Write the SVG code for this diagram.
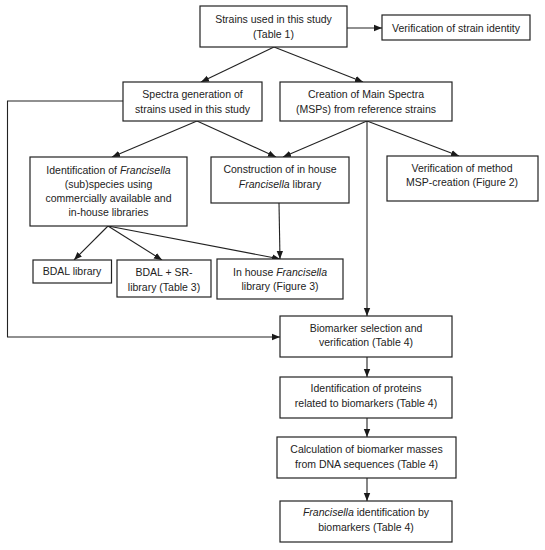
<svg xmlns="http://www.w3.org/2000/svg" width="545" height="550" viewBox="0 0 545 550">
<defs>
<marker id="ah" markerUnits="userSpaceOnUse" markerWidth="8" markerHeight="8" viewBox="0 0 8 8" refX="8" refY="4" orient="auto">
<path d="M0,0.8 L8,4 L0,7.2 Z" fill="#1a1a1a"/>
</marker>
</defs>
<style>
rect{fill:#fff;stroke:#222;stroke-width:1.2}
text{font-family:"Liberation Sans",Arial,sans-serif;font-size:10.5px;fill:#222;text-anchor:middle}
.c line,.c polyline{stroke:#222;stroke-width:1.1;fill:none}
.a{marker-end:url(#ah)}
.i{font-style:italic}
</style>
<rect x="0" y="0" width="545" height="550" style="fill:#fff;stroke:none"/>
<g class="c" id="connectors">
<line class="a" x1="347" y1="28" x2="382" y2="28"/>
<line class="a" x1="274" y1="47" x2="201" y2="82"/>
<line class="a" x1="274" y1="47" x2="363" y2="82"/>
<line class="a" x1="197" y1="121" x2="112" y2="157"/>
<line class="a" x1="197" y1="121" x2="276" y2="157"/>
<line class="a" x1="367" y1="121" x2="283" y2="157"/>
<line class="a" x1="367" y1="121" x2="459" y2="156"/>
<line class="a" x1="367" y1="121" x2="367" y2="316"/>
<line class="a" x1="108" y1="226" x2="74" y2="260"/>
<line class="a" x1="108" y1="226" x2="162" y2="260"/>
<line class="a" x1="108" y1="226" x2="280" y2="259"/>
<line class="a" x1="279" y1="203" x2="280" y2="259"/>
<polyline class="a" points="123,101 7.5,101 7.5,337 280,337"/>
<line class="a" x1="367" y1="357" x2="367" y2="377"/>
<line class="a" x1="367" y1="418" x2="367" y2="437"/>
<line class="a" x1="367" y1="478" x2="367" y2="501"/>
</g>
<g id="n1"><rect x="200" y="6" width="147" height="41"/><text x="273.5" y="23">Strains used in this study</text><text x="273.5" y="37.5">(Table 1)</text></g>
<g id="n2"><rect x="382" y="15" width="148" height="25"/><text x="456" y="31.5">Verification of strain identity</text></g>
<g id="n3"><rect x="123" y="82" width="139" height="39"/><text x="192.5" y="98">Spectra generation of</text><text x="192.5" y="112.5">strains used in this study</text></g>
<g id="n4"><rect x="280" y="82" width="172" height="39"/><text x="366" y="98">Creation of Main Spectra</text><text x="366" y="112.5">(MSPs) from reference strains</text></g>
<g id="n5"><rect x="30" y="157" width="157" height="69"/><text x="108.5" y="173.5">Identification of <tspan class="i">Francisella</tspan></text><text x="108.5" y="187.5">(sub)species using</text><text x="108.5" y="201.5">commercially available and</text><text x="108.5" y="215.5">in-house libraries</text></g>
<g id="n6"><rect x="211" y="157" width="138" height="46"/><text x="280" y="173">Construction of in house</text><text x="280" y="187.5"><tspan class="i">Francisella</tspan> library</text></g>
<g id="n7"><rect x="387" y="156" width="151" height="45"/><text x="462" y="171.5">Verification of method</text><text x="462" y="185.5">MSP-creation  (Figure 2)</text></g>
<g id="n8"><rect x="33" y="260" width="78.5" height="23"/><text x="72" y="275">BDAL  library</text></g>
<g id="n9"><rect x="117" y="260" width="94" height="37"/><text x="164" y="276">BDAL  + SR-</text><text x="164" y="290.5">library (Table 3)</text></g>
<g id="n10"><rect x="217" y="259" width="126" height="40"/><text x="280" y="275.5">In house <tspan class="i">Francisella</tspan></text><text x="280" y="290">library (Figure 3)</text></g>
<g id="n11"><rect x="280" y="316" width="172" height="41"/><text x="366" y="331.5">Biomarker selection and</text><text x="366" y="346">verification (Table 4)</text></g>
<g id="n12"><rect x="280" y="377" width="172" height="41"/><text x="366" y="392">Identification of proteins</text><text x="366" y="406.5">related to biomarkers (Table 4)</text></g>
<g id="n13"><rect x="277" y="437" width="179" height="41"/><text x="366.5" y="453">Calculation of biomarker masses</text><text x="366.5" y="467.5">from DNA  sequences (Table 4)</text></g>
<g id="n14"><rect x="280" y="501" width="172" height="41"/><text x="366" y="516"><tspan class="i">Francisella</tspan>  identification by</text><text x="366" y="531">biomarkers (Table 4)</text></g>
</svg>
